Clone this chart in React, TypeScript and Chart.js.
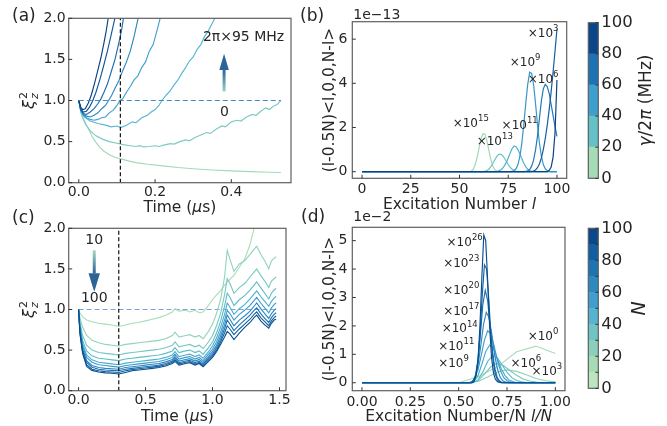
import { useEffect, useRef } from 'react';
import { Chart, registerables } from 'chart.js';

Chart.register(...registerables);

type Pt = [number, number];
type Run = { t: string; size: number; italic?: boolean; dy?: number };
type Box = { left: number; right: number; top: number; bottom: number };
type Ladder = { n: number; from: number; v: number[] };

const PAGE_W = 667;
const PAGE_H = 426;
const FAMILY = "'DejaVu Sans', 'Liberation Sans', sans-serif";
const INK = '#262626';
const SPINE = '#5f5f5f';
const TICK_SIZE = 14;
const LABEL_SIZE = 15.5;
const Y_AXIS_W = 40;
const X_AXIS_H = 24;
const BAR_AXIS_W = 50;

/* ---------- (a) squeezing parameter vs. time, several dephasing rates ---------- */
const A_X_TICKS = [0, 0.2, 0.4];
const A_Y_TICKS = [0, 0.5, 1, 1.5, 2];
const A_X_RANGE = [-0.0265, 0.5565];
const A_Y_RANGE = [0, 2];
const A_MARK_TIME = 0.109;
const A_LAST_TIME = 0.53;
const A_RATE_0: Pt[] = [[0, 1], [0.005, 0.88], [0.01, 0.8], [0.02, 0.7], [0.027, 0.64], [0.035, 0.56], [0.045, 0.49], [0.055, 0.43], [0.067, 0.38], [0.08, 0.34], [0.095, 0.31], [0.11, 0.29], [0.13, 0.265], [0.15, 0.245], [0.18, 0.225], [0.22, 0.205], [0.26, 0.185], [0.3, 0.17], [0.35, 0.155], [0.4, 0.143], [0.45, 0.134], [0.5, 0.127], [0.53, 0.124]];
const A_RATE_1: Pt[] = [[0, 1], [0.005, 0.86], [0.01, 0.79], [0.018, 0.71], [0.03, 0.63], [0.045, 0.57], [0.062, 0.53], [0.08, 0.5], [0.1, 0.48], [0.12, 0.46], [0.135, 0.45], [0.15, 0.44], [0.16, 0.45], [0.17, 0.435], [0.185, 0.44], [0.2, 0.45], [0.21, 0.44], [0.225, 0.46], [0.24, 0.475], [0.25, 0.47], [0.265, 0.5], [0.28, 0.52], [0.29, 0.51], [0.305, 0.55], [0.32, 0.58], [0.335, 0.61], [0.345, 0.6], [0.36, 0.65], [0.375, 0.69], [0.385, 0.68], [0.4, 0.74], [0.415, 0.76], [0.425, 0.75], [0.44, 0.8], [0.455, 0.83], [0.465, 0.82], [0.475, 0.86], [0.49, 0.91], [0.5, 0.89], [0.51, 0.93], [0.52, 0.95], [0.53, 1.0]];
const A_RATE_2: Pt[] = [[0, 1], [0.005, 0.9], [0.014, 0.8], [0.03, 0.75], [0.05, 0.72], [0.07, 0.7], [0.085, 0.68], [0.1, 0.69], [0.11, 0.67], [0.125, 0.7], [0.14, 0.74], [0.15, 0.73], [0.165, 0.79], [0.18, 0.82], [0.19, 0.86], [0.2, 0.89], [0.21, 0.94], [0.218, 1.0], [0.23, 1.07], [0.24, 1.12], [0.25, 1.19], [0.26, 1.25], [0.27, 1.33], [0.28, 1.4], [0.29, 1.48], [0.3, 1.53], [0.31, 1.62], [0.32, 1.68], [0.33, 1.78], [0.34, 1.85], [0.35, 1.94], [0.36, 2.03]];
const A_RATE_3: Pt[] = [[0, 1], [0.005, 0.88], [0.012, 0.82], [0.02, 0.79], [0.03, 0.77], [0.04, 0.76], [0.05, 0.77], [0.06, 0.79], [0.07, 0.8], [0.08, 0.85], [0.09, 0.88], [0.1, 0.94], [0.108, 1.0], [0.115, 1.02], [0.125, 1.1], [0.135, 1.17], [0.145, 1.25], [0.155, 1.3], [0.165, 1.4], [0.175, 1.47], [0.185, 1.6], [0.195, 1.68], [0.205, 1.85], [0.215, 2.03]];
const A_RATE_4: Pt[] = [[0, 1], [0.005, 0.88], [0.012, 0.83], [0.02, 0.81], [0.03, 0.8], [0.04, 0.82], [0.05, 0.85], [0.06, 0.9], [0.07, 0.94], [0.078, 1.0], [0.086, 1.06], [0.095, 1.15], [0.105, 1.24], [0.115, 1.36], [0.125, 1.47], [0.135, 1.6], [0.145, 1.78], [0.157, 2.03]];
const A_RATE_5: Pt[] = [[0, 1], [0.005, 0.89], [0.012, 0.84], [0.02, 0.83], [0.03, 0.86], [0.04, 0.9], [0.05, 0.96], [0.058, 1.02], [0.066, 1.1], [0.075, 1.2], [0.085, 1.35], [0.095, 1.5], [0.105, 1.7], [0.112, 1.85], [0.118, 2.03]];
const A_RATE_6: Pt[] = [[0, 1], [0.005, 0.9], [0.012, 0.86], [0.02, 0.87], [0.028, 0.92], [0.036, 0.99], [0.045, 1.1], [0.055, 1.25], [0.065, 1.42], [0.075, 1.6], [0.085, 1.8], [0.096, 2.03]];
const A_RATE_7: Pt[] = [[0, 1], [0.005, 0.92], [0.01, 0.89], [0.017, 0.9], [0.025, 0.97], [0.033, 1.07], [0.042, 1.22], [0.05, 1.37], [0.058, 1.52], [0.066, 1.7], [0.072, 1.85], [0.078, 2.03]];
const A_SERIES = [A_RATE_0, A_RATE_1, A_RATE_2, A_RATE_3, A_RATE_4, A_RATE_5, A_RATE_6, A_RATE_7];
const A_COLORS = ['#a2dab7', '#7ccbc3', '#59b6d3', '#42a0cf', '#2d87c0', '#1c6daf', '#10579c', '#0a4283'];

/* ---------- (b) weighted overlaps vs. excitation number ---------- */
const B_X_TICKS = [0, 25, 50, 75, 100];
const B_Y_TICKS = [0, 2, 4, 6];
const B_X_RANGE = [-5, 105];
const B_Y_RANGE = [-0.3, 6.79];
const B_RATE_0: Pt[] = [[0, 0], [55, 0], [56, 0.02], [57, 0.1], [58, 0.3], [59, 0.62], [60, 1.05], [61, 1.48], [62, 1.72], [63, 1.7], [64, 1.42], [65, 1.0], [66, 0.58], [67, 0.27], [68, 0.1], [69, 0.03], [70, 0], [100, 0]];
const B_RATE_1: Pt[] = [[0, 0], [62, 0], [63, 0.02], [64, 0.05], [65, 0.11], [66, 0.22], [67, 0.36], [68, 0.52], [69, 0.67], [70, 0.77], [71, 0.79], [72, 0.74], [73, 0.62], [74, 0.47], [75, 0.32], [76, 0.2], [77, 0.11], [78, 0.05], [79, 0.02], [80, 0], [100, 0]];
const B_RATE_2: Pt[] = [[0, 0], [69, 0], [70, 0.03], [71, 0.07], [72, 0.14], [73, 0.26], [74, 0.42], [75, 0.62], [76, 0.85], [77, 1.05], [78, 1.16], [79, 1.13], [80, 1.0], [81, 0.8], [82, 0.58], [83, 0.38], [84, 0.22], [85, 0.11], [86, 0.05], [87, 0.02], [88, 0], [100, 0]];
const B_RATE_3: Pt[] = [[0, 0], [76, 0], [77, 0.01], [78, 0.05], [79, 0.13], [80, 0.32], [81, 0.7], [82, 1.3], [83, 2.15], [84, 3.1], [85, 3.95], [86, 4.5], [87, 4.45], [88, 3.95], [89, 3.1], [90, 2.15], [91, 1.3], [92, 0.7], [93, 0.32], [94, 0.13], [95, 0.05], [96, 0.01], [97, 0], [100, 0]];
const B_RATE_4: Pt[] = [[0, 0], [83, 0], [84, 0.01], [85, 0.04], [86, 0.1], [87, 0.25], [88, 0.52], [89, 0.98], [90, 1.6], [91, 2.4], [92, 3.2], [93, 3.75], [94, 3.95], [95, 3.85], [96, 3.55], [97, 3.05], [98, 2.55], [99, 2.05], [100, 1.6]];
const B_RATE_5: Pt[] = [[0, 0], [87, 0], [88, 0.03], [89, 0.08], [90, 0.18], [91, 0.35], [92, 0.62], [93, 1.0], [94, 1.5], [95, 2.1], [96, 2.8], [97, 3.6], [98, 4.5], [99, 5.45], [100, 6.45]];
const B_RATE_6: Pt[] = [[0, 0], [95, 0], [96, 0.06], [97, 0.2], [98, 0.65], [99, 1.75], [100, 4.15]];
const B_SERIES = [B_RATE_0, B_RATE_1, B_RATE_2, B_RATE_3, B_RATE_4, B_RATE_5, B_RATE_6];
const B_COLORS = ['#9fd9b7', '#6cc3c7', '#4fb2d2', '#3797cb', '#2479b8', '#155ea3', '#0a4383'];
const B_FACTORS = [
  { x: 85, y: 6.26, exp: '3' },
  { x: 75.8, y: 4.93, exp: '9' },
  { x: 85, y: 4.15, exp: '6' },
  { x: 46.5, y: 2.16, exp: '15' },
  { x: 71.6, y: 2.07, exp: '11' },
  { x: 58.8, y: 1.36, exp: '13' },
];
const B_BAR_TICKS = [0, 20, 40, 60, 80, 100];
const B_BAR_COLORS = ['#a5dcb6', '#66c0c8', '#3d9fce', '#1c72b3', '#0a4689'];

/* ---------- (c) squeezing parameter vs. time, several atom numbers ---------- */
const C_X_TICKS = [0, 0.5, 1, 1.5];
const C_Y_TICKS = [0, 0.5, 1, 1.5, 2];
const C_X_RANGE = [-0.07375, 1.54875];
const C_Y_RANGE = [0, 2];
const C_MARK_TIME = 0.3;
const C_TIME = [0, 0.01, 0.03, 0.06, 0.1, 0.15, 0.2, 0.25, 0.3, 0.35, 0.4, 0.45, 0.5, 0.55, 0.6, 0.65, 0.7, 0.72, 0.75, 0.8, 0.83, 0.87, 0.9, 0.93, 0.97, 1.0, 1.03, 1.06, 1.09, 1.11, 1.13, 1.16, 1.2, 1.24, 1.28, 1.31, 1.33, 1.36, 1.39, 1.42, 1.44, 1.46, 1.475];
const C_N10 = [1.0, 0.96, 0.91, 0.87, 0.85, 0.83, 0.82, 0.81, 0.79, 0.81, 0.83, 0.84, 0.86, 0.88, 0.9, 0.93, 0.97, 1.01, 0.98, 0.99, 0.97, 0.99, 0.96, 0.97, 1.05, 1.12, 1.18, 1.23, 1.3, 1.34, 1.37, 1.42, 1.52, 1.62, 1.8, 2.0, 2.08, 2.15, 2.1, 2.2, 2.25, 2.3, 2.3];
const C_N20 = [1, 0.9, 0.78, 0.68, 0.62, 0.59, 0.57, 0.56, 0.55, 0.57, 0.58, 0.59, 0.6, 0.61, 0.62, 0.64, 0.68, 0.72, 0.66, 0.68, 0.69, 0.66, 0.68, 0.64, 0.73, 0.82, 0.95, 1.12, 1.4, 1.73, 1.62, 1.47, 1.56, 1.6, 1.68, 1.74, 1.78, 1.68, 1.6, 1.5, 1.6, 1.63, 1.65];
const C_N30 = [1, 0.85, 0.68, 0.56, 0.5, 0.47, 0.46, 0.45, 0.44, 0.46, 0.47, 0.48, 0.49, 0.5, 0.51, 0.53, 0.56, 0.6, 0.54, 0.56, 0.57, 0.54, 0.56, 0.52, 0.6, 0.68, 0.8, 0.95, 1.18, 1.38, 1.32, 1.2, 1.27, 1.32, 1.4, 1.46, 1.5, 1.42, 1.35, 1.27, 1.35, 1.38, 1.4];
const C_N40 = [1, 0.82, 0.62, 0.49, 0.43, 0.4, 0.39, 0.38, 0.37, 0.39, 0.4, 0.41, 0.42, 0.43, 0.44, 0.46, 0.49, 0.53, 0.47, 0.49, 0.5, 0.47, 0.49, 0.45, 0.53, 0.6, 0.71, 0.85, 1.04, 1.2, 1.15, 1.05, 1.12, 1.17, 1.24, 1.3, 1.34, 1.27, 1.2, 1.13, 1.2, 1.24, 1.26];
const C_N50 = [1, 0.8, 0.58, 0.44, 0.38, 0.35, 0.34, 0.33, 0.32, 0.34, 0.35, 0.36, 0.37, 0.38, 0.39, 0.41, 0.44, 0.48, 0.42, 0.44, 0.45, 0.42, 0.44, 0.4, 0.48, 0.55, 0.65, 0.78, 0.94, 1.08, 1.03, 0.94, 1.01, 1.06, 1.13, 1.19, 1.23, 1.16, 1.1, 1.04, 1.1, 1.14, 1.16];
const C_N60 = [1, 0.78, 0.55, 0.41, 0.35, 0.32, 0.31, 0.3, 0.29, 0.31, 0.32, 0.33, 0.34, 0.35, 0.36, 0.38, 0.41, 0.45, 0.39, 0.41, 0.42, 0.39, 0.41, 0.37, 0.45, 0.51, 0.6, 0.72, 0.87, 0.99, 0.95, 0.87, 0.94, 0.99, 1.05, 1.11, 1.15, 1.08, 1.02, 0.96, 1.02, 1.06, 1.08];
const C_N70 = [1, 0.76, 0.52, 0.37, 0.31, 0.285, 0.275, 0.27, 0.265, 0.285, 0.295, 0.305, 0.315, 0.325, 0.335, 0.355, 0.385, 0.42, 0.365, 0.385, 0.395, 0.365, 0.385, 0.345, 0.42, 0.48, 0.56, 0.67, 0.81, 0.93, 0.88, 0.8, 0.87, 0.92, 0.98, 1.04, 1.08, 1.01, 0.95, 0.89, 0.95, 0.99, 1.01];
const C_N80 = [1, 0.74, 0.5, 0.35, 0.29, 0.265, 0.255, 0.25, 0.245, 0.265, 0.275, 0.285, 0.295, 0.305, 0.315, 0.335, 0.365, 0.4, 0.345, 0.365, 0.375, 0.345, 0.365, 0.325, 0.4, 0.45, 0.53, 0.63, 0.76, 0.87, 0.82, 0.74, 0.81, 0.87, 0.93, 0.99, 1.02, 0.95, 0.89, 0.84, 0.9, 0.94, 0.96];
const C_N90 = [1, 0.72, 0.48, 0.32, 0.265, 0.245, 0.235, 0.23, 0.225, 0.245, 0.26, 0.27, 0.28, 0.29, 0.3, 0.32, 0.35, 0.38, 0.33, 0.35, 0.36, 0.33, 0.35, 0.31, 0.38, 0.43, 0.5, 0.6, 0.71, 0.8, 0.76, 0.69, 0.76, 0.82, 0.88, 0.94, 0.97, 0.9, 0.85, 0.8, 0.86, 0.9, 0.92];
const C_N100 = [1, 0.7, 0.46, 0.3, 0.25, 0.23, 0.22, 0.215, 0.205, 0.225, 0.245, 0.255, 0.265, 0.275, 0.285, 0.305, 0.335, 0.36, 0.315, 0.335, 0.345, 0.315, 0.335, 0.295, 0.36, 0.41, 0.48, 0.57, 0.66, 0.73, 0.7, 0.63, 0.71, 0.78, 0.84, 0.9, 0.93, 0.86, 0.81, 0.77, 0.83, 0.87, 0.88];
const C_SERIES = [C_N10, C_N20, C_N30, C_N40, C_N50, C_N60, C_N70, C_N80, C_N90, C_N100];
const N_COLORS = ['#a8ddb5', '#8fd3bb', '#76c8c1', '#5fbcca', '#4cadd1', '#3b9bcc', '#2b87bf', '#1d72b1', '#1160a1', '#084d8e'];

/* ---------- (d) weighted overlaps vs. scaled excitation number ---------- */
const D_X_TICKS = [0, 0.25, 0.5, 0.75, 1];
const D_Y_TICKS = [0, 1, 2, 3, 4, 5];
const D_X_RANGE = [-0.05, 1.05];
const D_Y_RANGE = [-0.28, 5.47];
const D_N10: Ladder = { n: 10, from: 5, v: [0, 0.21, 0.56, 1.09, 1.29, 1.03] };
const D_N20: Ladder = { n: 20, from: 11, v: [0, 0.05, 0.2, 0.38, 0.45, 0.4, 0.28, 0.15, 0.07, 0.03] };
const D_N30: Ladder = { n: 30, from: 17, v: [0, 0.08, 0.3, 0.56, 0.68, 0.6, 0.42, 0.26, 0.13, 0.06, 0.02, 0] };
const D_N40: Ladder = { n: 40, from: 23, v: [0, 0.1, 0.38, 0.75, 0.95, 0.88, 0.62, 0.36, 0.18, 0.08, 0.03, 0.01, 0] };
const D_N50: Ladder = { n: 50, from: 28, v: [0, 0.05, 0.25, 0.65, 1.1, 1.32, 1.2, 0.85, 0.5, 0.25, 0.1, 0.04, 0.01, 0] };
const D_N60: Ladder = { n: 60, from: 33, v: [0, 0.03, 0.15, 0.45, 0.95, 1.5, 1.83, 1.72, 1.3, 0.8, 0.42, 0.18, 0.07, 0.02, 0] };
const D_N70: Ladder = { n: 70, from: 39, v: [0, 0.04, 0.2, 0.6, 1.3, 2.05, 2.48, 2.3, 1.7, 1.0, 0.5, 0.2, 0.07, 0.02, 0] };
const D_N80: Ladder = { n: 80, from: 45, v: [0, 0.06, 0.28, 0.8, 1.7, 2.75, 3.25, 2.9, 2.0, 1.1, 0.5, 0.18, 0.06, 0.01, 0] };
const D_N90: Ladder = { n: 90, from: 51, v: [0, 0.05, 0.25, 0.75, 1.75, 3.1, 4.15, 4.0, 2.95, 1.7, 0.8, 0.32, 0.11, 0.03, 0] };
const D_N100: Ladder = { n: 100, from: 57, v: [0, 0.05, 0.25, 0.8, 2.0, 3.7, 5.2, 5.0, 3.6, 2.0, 0.9, 0.35, 0.12, 0.04, 0.01, 0] };
const D_SERIES = [D_N10, D_N20, D_N30, D_N40, D_N50, D_N60, D_N70, D_N80, D_N90, D_N100];
const D_FACTORS = [
  { x: 0.4375, y: 4.92, exp: '26' },
  { x: 0.42, y: 4.17, exp: '23' },
  { x: 0.42, y: 3.24, exp: '20' },
  { x: 0.42, y: 2.5, exp: '17' },
  { x: 0.412, y: 1.88, exp: '14' },
  { x: 0.394, y: 1.27, exp: '11' },
  { x: 0.394, y: 0.68, exp: '9' },
  { x: 0.857, y: 1.6, exp: '0' },
  { x: 0.768, y: 0.66, exp: '6' },
  { x: 0.877, y: 0.39, exp: '3' },
];
const D_BAR_TICKS = [0, 20, 40, 60, 80, 100];
const D_BAR_COLORS = ['#bde5bf', '#a6dbb8', '#8bd0bd', '#70c4c5', '#56b4cf', '#419fcd', '#2e89c0', '#1e74b2', '#115ea2', '#0a478b'];

/* ---------- layout ---------- */
const A_BOX: Box = { left: 68.7, right: 291, top: 18.3, bottom: 182.7 };
const B_BOX: Box = { left: 352.3, right: 566.7, top: 21.7, bottom: 178.3 };
const C_BOX: Box = { left: 68.7, right: 286, top: 228.3, bottom: 390.7 };
const D_BOX: Box = { left: 352.3, right: 565, top: 227.3, bottom: 390.7 };
const B_BAR_BOX: Box = { left: 588.3, right: 598.3, top: 22.7, bottom: 178.3 };
const D_BAR_BOX: Box = { left: 588.3, right: 598.3, top: 228.3, bottom: 388.3 };

/* ---------- helpers ---------- */
const fontOf = (r: Run) => `${r.italic ? 'italic ' : ''}${r.size}px ${FAMILY}`;

function drawRuns(ctx: CanvasRenderingContext2D, runs: Run[], x: number, y: number, align: 'left' | 'center' = 'left') {
  ctx.save();
  ctx.fillStyle = INK;
  ctx.textBaseline = 'middle';
  ctx.textAlign = 'left';
  const widths = runs.map((r) => {
    ctx.font = fontOf(r);
    return r.dy && r.dy > 0 ? 0 : ctx.measureText(r.t).width;
  });
  const total = widths.reduce((a, b) => a + b, 0);
  let cx = align === 'center' ? x - total / 2 : x;
  runs.forEach((r, i) => {
    ctx.font = fontOf(r);
    ctx.fillText(r.t, cx, y + (r.dy ?? 0));
    cx += widths[i];
  });
  ctx.restore();
}

function drawRunsUp(ctx: CanvasRenderingContext2D, runs: Run[], cx: number, cy: number) {
  ctx.save();
  ctx.translate(cx, cy);
  ctx.rotate(-Math.PI / 2);
  drawRuns(ctx, runs, 0, 0, 'center');
  ctx.restore();
}

function drawXiLabel(ctx: CanvasRenderingContext2D, cx: number, cy: number) {
  ctx.save();
  ctx.translate(cx, cy);
  ctx.rotate(-Math.PI / 2);
  ctx.fillStyle = INK;
  ctx.textBaseline = 'alphabetic';
  ctx.textAlign = 'left';
  ctx.font = `italic 16px ${FAMILY}`;
  const wXi = ctx.measureText('ξ').width;
  ctx.font = `11px ${FAMILY}`;
  const w2 = ctx.measureText('2').width;
  const x0 = -(wXi + 1 + w2) / 2;
  ctx.font = `italic 16px ${FAMILY}`;
  ctx.fillText('ξ', x0, 4);
  ctx.font = `11px ${FAMILY}`;
  ctx.fillText('2', x0 + wXi + 1, -3);
  ctx.font = `italic 11px ${FAMILY}`;
  ctx.fillText('z', x0 + wXi + 1, 8);
  ctx.restore();
}

function factorRuns(exp: string): Run[] {
  return [
    { t: '×10', size: 12 },
    { t: exp, size: 8.5, dy: -5 },
  ];
}

function drawFrame(chart: Chart, xTicks: number[], yTicks: number[]) {
  const { ctx, chartArea: a } = chart;
  const sx = chart.scales.x;
  const sy = chart.scales.y;
  ctx.save();
  ctx.strokeStyle = SPINE;
  ctx.lineWidth = 1.2;
  ctx.strokeRect(a.left, a.top, a.right - a.left, a.bottom - a.top);
  ctx.strokeStyle = '#333';
  ctx.lineWidth = 1;
  ctx.beginPath();
  xTicks.forEach((v) => {
    const px = sx.getPixelForValue(v);
    ctx.moveTo(px, a.bottom);
    ctx.lineTo(px, a.bottom - 3.5);
  });
  yTicks.forEach((v) => {
    const py = sy.getPixelForValue(v);
    ctx.moveTo(a.left, py);
    ctx.lineTo(a.left + 3.5, py);
  });
  ctx.stroke();
  ctx.restore();
}

function gradArrow(ctx: CanvasRenderingContext2D, x: number, yTail: number, yBase: number, yTip: number, tail: string, head: string, shaftW: number, headW: number) {
  ctx.save();
  const g = ctx.createLinearGradient(0, yTail, 0, yBase);
  g.addColorStop(0, tail);
  g.addColorStop(1, head);
  ctx.fillStyle = g;
  ctx.fillRect(x - shaftW / 2, Math.min(yTail, yBase), shaftW, Math.abs(yBase - yTail));
  ctx.fillStyle = head;
  ctx.beginPath();
  ctx.moveTo(x - headW / 2, yBase);
  ctx.lineTo(x + headW / 2, yBase);
  ctx.lineTo(x, yTip);
  ctx.closePath();
  ctx.fill();
  ctx.restore();
}

const toXY = (pts: Pt[]) => pts.map(([x, y]) => ({ x, y }));

function ladderPoints(s: Ladder) {
  const pts: { x: number; y: number }[] = [];
  if (s.from > 0) pts.push({ x: 0, y: 0 });
  s.v.forEach((val, i) => pts.push({ x: (s.from + i) / s.n, y: val }));
  if (s.from + s.v.length - 1 < s.n) pts.push({ x: 1, y: 0 });
  return pts;
}

type PanelSpec = {
  box: Box;
  xRange: number[];
  yRange: number[];
  xTicks: number[];
  yTicks: number[];
  xFmt: (v: number) => string;
  yFmt: (v: number) => string;
  xPad: number;
  yPad: number;
  datasets: any[];
  decorate: (chart: Chart) => void;
};

function linePanel(canvas: HTMLCanvasElement, p: PanelSpec) {
  const tickFont = { family: FAMILY, size: TICK_SIZE };
  return new Chart(canvas, {
    type: 'line',
    data: { datasets: p.datasets },
    options: {
      responsive: false,
      animation: false,
      events: [],
      layout: {
        padding: {
          left: p.box.left - Y_AXIS_W,
          right: PAGE_W - p.box.right,
          top: p.box.top,
          bottom: PAGE_H - p.box.bottom - X_AXIS_H,
        },
      },
      plugins: { legend: { display: false }, tooltip: { enabled: false } },
      elements: { point: { radius: 0 }, line: { tension: 0 } },
      scales: {
        x: {
          type: 'linear',
          min: p.xRange[0],
          max: p.xRange[1],
          grid: { display: false, drawTicks: false },
          border: { display: false },
          ticks: { font: tickFont, color: INK, padding: p.xPad, autoSkip: false, maxRotation: 0, callback: (v: any) => p.xFmt(Number(v)) },
          afterBuildTicks: (s: any) => { s.ticks = p.xTicks.map((value) => ({ value })); },
          afterFit: (s: any) => { s.height = X_AXIS_H; },
        },
        y: {
          type: 'linear',
          min: p.yRange[0],
          max: p.yRange[1],
          grid: { display: false, drawTicks: false },
          border: { display: false },
          ticks: { font: tickFont, color: INK, padding: p.yPad, autoSkip: false, callback: (v: any) => p.yFmt(Number(v)) },
          afterBuildTicks: (s: any) => { s.ticks = p.yTicks.map((value) => ({ value })); },
          afterFit: (s: any) => { s.width = Y_AXIS_W; },
        },
      },
    },
    plugins: [{ id: 'decor', afterDraw: (chart: Chart) => p.decorate(chart) }],
  } as any);
}

function colorbar(canvas: HTMLCanvasElement, box: Box, colors: string[], ticks: number[], innerTicks: number[], title: Run[], titleX: number) {
  const step = 100 / colors.length;
  return new Chart(canvas, {
    type: 'bar',
    data: {
      labels: [''],
      datasets: colors.map((c) => ({ data: [step], backgroundColor: c, borderWidth: 0, barPercentage: 1, categoryPercentage: 1 })),
    },
    options: {
      responsive: false,
      animation: false,
      events: [],
      layout: { padding: { left: box.left, right: PAGE_W - box.right - BAR_AXIS_W, top: box.top, bottom: PAGE_H - box.bottom } },
      plugins: { legend: { display: false }, tooltip: { enabled: false } },
      scales: {
        x: { display: false, stacked: true },
        y: {
          stacked: true,
          position: 'right',
          min: 0,
          max: 100,
          grid: { display: false, drawTicks: false },
          border: { display: false },
          ticks: { font: { family: FAMILY, size: 16.5 }, color: INK, padding: 3, callback: (v: any) => String(v) },
          afterBuildTicks: (s: any) => { s.ticks = ticks.map((value) => ({ value })); },
          afterFit: (s: any) => { s.width = BAR_AXIS_W; },
        },
      },
    },
    plugins: [{
      id: 'barDecor',
      afterDraw: (chart: Chart) => {
        const { ctx, chartArea: a } = chart;
        const sy = chart.scales.y;
        ctx.save();
        ctx.strokeStyle = SPINE;
        ctx.lineWidth = 1.2;
        ctx.strokeRect(a.left, a.top, a.right - a.left, a.bottom - a.top);
        ctx.strokeStyle = '#333';
        ctx.lineWidth = 1;
        ctx.beginPath();
        innerTicks.forEach((v) => {
          const py = sy.getPixelForValue(v);
          ctx.moveTo(a.right, py);
          ctx.lineTo(a.right - 3, py);
        });
        ctx.stroke();
        ctx.restore();
        drawRunsUp(ctx, title, titleX, (a.top + a.bottom) / 2);
      },
    }],
  } as any);
}

const lineSet = (data: any[], color: string, width = 1.15, dash: number[] = []) => ({
  data,
  borderColor: color,
  borderWidth: width,
  borderDash: dash,
  pointRadius: 0,
  fill: false,
  clip: 0,
});

/* ---------- panels ---------- */
function buildA(canvas: HTMLCanvasElement) {
  const curves = A_SERIES.map((s, i) => lineSet(toXY(s), A_COLORS[i])).reverse();
  return linePanel(canvas, {
    box: A_BOX,
    xRange: A_X_RANGE,
    yRange: A_Y_RANGE,
    xTicks: A_X_TICKS,
    yTicks: A_Y_TICKS,
    xFmt: (v) => v.toFixed(1),
    yFmt: (v) => v.toFixed(1),
    xPad: 1,
    yPad: 3,
    datasets: [
      lineSet([{ x: A_MARK_TIME, y: A_Y_RANGE[0] }, { x: A_MARK_TIME, y: A_Y_RANGE[1] }], '#111', 1.2, [4, 2.5]),
      lineSet([{ x: 0, y: 1 }, { x: A_LAST_TIME, y: 1 }], '#4b87c6', 1.1, [5, 3]),
      ...curves,
    ],
    decorate: (chart) => {
      const { ctx } = chart;
      const sx = chart.scales.x;
      const sy = chart.scales.y;
      drawFrame(chart, A_X_TICKS, A_Y_TICKS);
      drawRuns(ctx, [{ t: '(a)', size: 17 }], 12, 17);
      drawRuns(ctx, [{ t: '2π×95 MHz', size: 14 }], sx.getPixelForValue(0.432), sy.getPixelForValue(1.77), 'center');
      gradArrow(ctx, sx.getPixelForValue(0.381), sy.getPixelForValue(1.11), sy.getPixelForValue(1.37), sy.getPixelForValue(1.57), '#97d4c2', '#2c6398', 3, 9.5);
      drawRuns(ctx, [{ t: '0', size: 14 }], sx.getPixelForValue(0.382), sy.getPixelForValue(0.86), 'center');
      drawXiLabel(ctx, 30, (A_BOX.top + A_BOX.bottom) / 2);
      drawRuns(ctx, [{ t: 'Time (', size: LABEL_SIZE }, { t: 'μ', size: LABEL_SIZE, italic: true }, { t: 's)', size: LABEL_SIZE }], (A_BOX.left + A_BOX.right) / 2, 208, 'center');
    },
  });
}

function buildB(canvas: HTMLCanvasElement) {
  const curves = B_SERIES.map((s, i) => lineSet(toXY(s), B_COLORS[i], 1.2)).reverse();
  return linePanel(canvas, {
    box: B_BOX,
    xRange: B_X_RANGE,
    yRange: B_Y_RANGE,
    xTicks: B_X_TICKS,
    yTicks: B_Y_TICKS,
    xFmt: (v) => String(v),
    yFmt: (v) => String(v),
    xPad: 3,
    yPad: 5,
    datasets: curves,
    decorate: (chart) => {
      const { ctx } = chart;
      const sx = chart.scales.x;
      const sy = chart.scales.y;
      drawFrame(chart, B_X_TICKS, B_Y_TICKS);
      drawRuns(ctx, [{ t: '(b)', size: 17 }], 300, 17);
      drawRuns(ctx, [{ t: '1e−13', size: TICK_SIZE }], B_BOX.left + 1, B_BOX.top - 6);
      B_FACTORS.forEach((f) => drawRuns(ctx, factorRuns(f.exp), sx.getPixelForValue(f.x), sy.getPixelForValue(f.y)));
      drawRunsUp(ctx, [{ t: '(l-0.5N)<l,0,0,N-l>', size: LABEL_SIZE }], 330, (B_BOX.top + B_BOX.bottom) / 2);
      drawRuns(ctx, [{ t: 'Excitation Number ', size: LABEL_SIZE }, { t: 'l', size: LABEL_SIZE, italic: true }], (B_BOX.left + B_BOX.right) / 2, 205, 'center');
    },
  });
}

function buildC(canvas: HTMLCanvasElement) {
  const curves = C_SERIES.map((vals, i) => lineSet(vals.map((y, k) => ({ x: C_TIME[k], y })), N_COLORS[i], 1.1)).reverse();
  return linePanel(canvas, {
    box: C_BOX,
    xRange: C_X_RANGE,
    yRange: C_Y_RANGE,
    xTicks: C_X_TICKS,
    yTicks: C_Y_TICKS,
    xFmt: (v) => v.toFixed(1),
    yFmt: (v) => v.toFixed(1),
    xPad: 1,
    yPad: 3,
    datasets: [
      lineSet([{ x: C_MARK_TIME, y: C_Y_RANGE[0] }, { x: C_MARK_TIME, y: C_Y_RANGE[1] }], '#111', 1.2, [4, 2.5]),
      ...curves,
      lineSet([{ x: 0, y: 1 }, { x: C_TIME[C_TIME.length - 1], y: 1 }], '#7ea3d8', 1.1, [5, 3]),
    ],
    decorate: (chart) => {
      const { ctx } = chart;
      const sx = chart.scales.x;
      const sy = chart.scales.y;
      drawFrame(chart, C_X_TICKS, C_Y_TICKS);
      drawRuns(ctx, [{ t: '(c)', size: 17 }], 12, 219);
      drawRuns(ctx, [{ t: '10', size: 14 }], sx.getPixelForValue(0.117), sy.getPixelForValue(1.855), 'center');
      gradArrow(ctx, sx.getPixelForValue(0.117), sy.getPixelForValue(1.73), sy.getPixelForValue(1.445), sy.getPixelForValue(1.22), '#a6dac4', '#2c6494', 3, 11.5);
      drawRuns(ctx, [{ t: '100', size: 14 }], sx.getPixelForValue(0.117), sy.getPixelForValue(1.14), 'center');
      drawXiLabel(ctx, 30, (C_BOX.top + C_BOX.bottom) / 2);
      drawRuns(ctx, [{ t: 'Time (', size: LABEL_SIZE }, { t: 'μ', size: LABEL_SIZE, italic: true }, { t: 's)', size: LABEL_SIZE }], (C_BOX.left + C_BOX.right) / 2, 416.7, 'center');
    },
  });
}

function buildD(canvas: HTMLCanvasElement) {
  const curves = D_SERIES.map((s, i) => lineSet(ladderPoints(s), N_COLORS[i], 1.15)).reverse();
  return linePanel(canvas, {
    box: D_BOX,
    xRange: D_X_RANGE,
    yRange: D_Y_RANGE,
    xTicks: D_X_TICKS,
    yTicks: D_Y_TICKS,
    xFmt: (v) => v.toFixed(2),
    yFmt: (v) => String(v),
    xPad: 3,
    yPad: 5,
    datasets: curves,
    decorate: (chart) => {
      const { ctx } = chart;
      const sx = chart.scales.x;
      const sy = chart.scales.y;
      drawFrame(chart, D_X_TICKS, D_Y_TICKS);
      drawRuns(ctx, [{ t: '(d)', size: 17 }], 301, 218);
      drawRuns(ctx, [{ t: '1e−2', size: TICK_SIZE }], D_BOX.left + 1, D_BOX.top - 10);
      D_FACTORS.forEach((f) => drawRuns(ctx, factorRuns(f.exp), sx.getPixelForValue(f.x), sy.getPixelForValue(f.y)));
      drawRunsUp(ctx, [{ t: '(l-0.5N)<l,0,0,N-l>', size: LABEL_SIZE }], 330, (D_BOX.top + D_BOX.bottom) / 2);
      drawRuns(ctx, [{ t: 'Excitation Number/N ', size: LABEL_SIZE }, { t: 'l/N', size: LABEL_SIZE, italic: true }], (D_BOX.left + D_BOX.right) / 2, 416.7, 'center');
    },
  });
}

export default function App() {
  const canvases = useRef<(HTMLCanvasElement | null)[]>([]);

  useEffect(() => {
    const c = canvases.current as HTMLCanvasElement[];
    const charts = [
      buildA(c[0]),
      buildB(c[1]),
      buildC(c[2]),
      buildD(c[3]),
      colorbar(c[4], B_BAR_BOX, B_BAR_COLORS, B_BAR_TICKS, B_BAR_TICKS, [
        { t: 'γ', size: 17, italic: true },
        { t: '/2', size: 17 },
        { t: 'π', size: 17, italic: true },
        { t: ' (MHz)', size: 17 },
      ], 647),
      colorbar(c[5], D_BAR_BOX, D_BAR_COLORS, D_BAR_TICKS, [0, 10, 20, 30, 40, 50, 60, 70, 80, 90, 100], [
        { t: 'N', size: 19, italic: true },
      ], 640),
    ];
    return () => charts.forEach((ch) => ch.destroy());
  }, []);

  return (
    <div style={{ position: 'fixed', left: 0, top: 0, width: PAGE_W, height: PAGE_H, background: '#fff', overflow: 'hidden' }}>
      {[0, 1, 2, 3, 4, 5].map((i) => (
        <canvas
          key={i}
          ref={(el) => { canvases.current[i] = el; }}
          width={PAGE_W}
          height={PAGE_H}
          style={{ position: 'absolute', left: 0, top: 0, width: PAGE_W, height: PAGE_H }}
        />
      ))}
    </div>
  );
}
